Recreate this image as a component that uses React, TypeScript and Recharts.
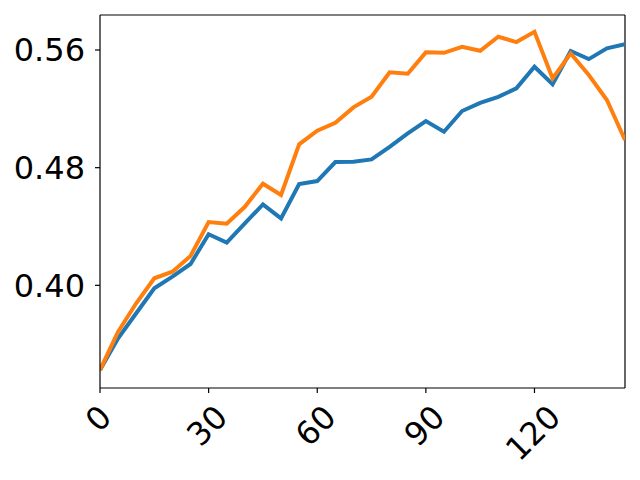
import { Line, LineChart, ReferenceLine, XAxis, YAxis } from "recharts";

const steps = [0, 5, 10, 15, 20, 25, 30, 35, 40, 45, 50, 55, 60, 65, 70, 75, 80, 85, 90, 95, 100, 105, 110, 115, 120, 125, 130, 135, 140, 145];

const blueValues = [
  0.3424, 0.364, 0.381, 0.398, 0.4059, 0.4145, 0.4347, 0.429, 0.4421, 0.455,
  0.4455, 0.4689, 0.4709, 0.4838, 0.484, 0.4856, 0.4942, 0.5033, 0.5117, 0.5044,
  0.5185, 0.5241, 0.5282, 0.5339, 0.5486, 0.5368, 0.5593, 0.5538, 0.5611, 0.564,
];

const orangeValues = [
  0.3424, 0.3685, 0.3878, 0.4048, 0.4093, 0.42, 0.443, 0.4419, 0.4534, 0.4691,
  0.4614, 0.4959, 0.5051, 0.5105, 0.521, 0.5282, 0.5448, 0.5439, 0.5584, 0.5581,
  0.5622, 0.5595, 0.569, 0.5654, 0.5724, 0.5407, 0.5577, 0.543, 0.526, 0.4988,
];

const xTicks = [0, 30, 60, 90, 120];
const yTicks = [0.4, 0.48, 0.56];

const X_MAX = 145;
const Y_MIN = 0.3302;
const Y_MAX = 0.5838;

const data = steps.map((step, i) => ({
  step,
  blue: blueValues[i],
  orange: orangeValues[i],
}));

const FONT = "DejaVu Sans";
const FS = 32;

function RotatedTick({ x, y, payload }: any) {
  const label = String(payload.value);
  const w = label.length * 0.636 * FS;
  const h = FS * 1.1;
  const side = ((w + h) * Math.SQRT1_2) / 2;
  const cx = x - 1.5;
  const cy = y + side + 1;
  return (
    <text
      x={cx}
      y={cy}
      textAnchor="middle"
      dominantBaseline="central"
      fontFamily={FONT}
      fontSize={FS}
      fill="#000"
      transform={`rotate(-45, ${cx}, ${cy})`}
    >
      {label}
    </text>
  );
}

export default function App() {
  return (
    <div style={{ position: "absolute", left: 0, top: 0, background: "#fff" }}>
      <LineChart
        width={640}
        height={480}
        data={data}
        margin={{ top: 15, right: 15, bottom: 0, left: 0 }}
      >
        <XAxis
          dataKey="step"
          type="number"
          domain={[0, X_MAX]}
          ticks={xTicks}
          height={92}
          tickSize={5}
          tickMargin={5}
          tickLine={{ stroke: "#000", strokeWidth: 1.2 }}
          axisLine={{ stroke: "#000", strokeWidth: 1.2 }}
          tick={<RotatedTick />}
          allowDataOverflow
        />
        <YAxis
          type="number"
          domain={[Y_MIN, Y_MAX]}
          ticks={yTicks}
          width={100}
          tickSize={5}
          tickMargin={10}
          tickFormatter={(v: number) => v.toFixed(2)}
          tick={{ fontSize: FS, fill: "#000", fontFamily: FONT }}
          tickLine={{ stroke: "#000", strokeWidth: 1.2 }}
          axisLine={{ stroke: "#000", strokeWidth: 1.2 }}
          allowDataOverflow
        />
        <ReferenceLine y={Y_MAX} stroke="#000" strokeWidth={1.2} />
        <ReferenceLine x={X_MAX} stroke="#000" strokeWidth={1.2} />
        <Line
          dataKey="blue"
          stroke="#1f77b4"
          strokeWidth={4}
          dot={false}
          isAnimationActive={false}
        />
        <Line
          dataKey="orange"
          stroke="#ff7f0e"
          strokeWidth={4}
          dot={false}
          isAnimationActive={false}
        />
      </LineChart>
    </div>
  );
}
